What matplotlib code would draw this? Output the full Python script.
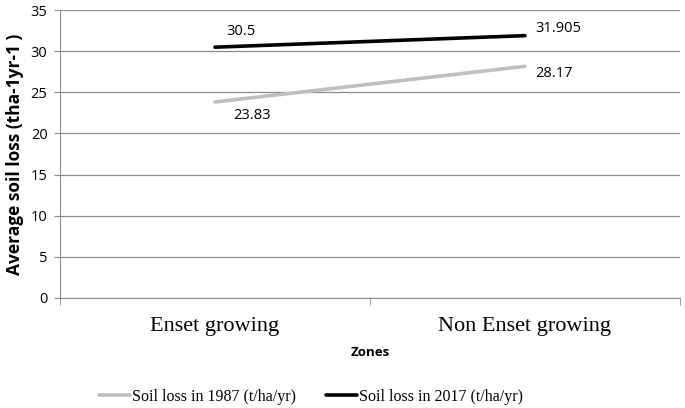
import matplotlib.pyplot as plt
import numpy as np

zones = ["Enset growing", "Non Enset growing"]
loss_1987 = [23.83, 28.17]
loss_2017 = [30.5, 31.905]
labels_1987 = ["23.83", "28.17"]
labels_2017 = ["30.5", "31.905"]

fig = plt.figure(figsize=(6.85, 4.08), dpi=100)
ax = fig.add_axes([0.0876, 0.270, 0.905, 0.705])

x = np.arange(len(zones))
ax.plot(x, loss_1987, color="#BFBFBF", lw=2.6, solid_capstyle="round",
        label="Soil loss in 1987 (t/ha/yr)")
ax.plot(x, loss_2017, color="black", lw=2.6, solid_capstyle="round",
        label="Soil loss in 2017 (t/ha/yr)")

# data labels, offsets in points
off_1987 = [(27, -10), (21, -5)]
off_2017 = [(19, 11), (24, 5)]
for xi, yi, t, o in zip(x, loss_1987, labels_1987, off_1987):
    ax.annotate(t, (xi, yi), xytext=o, textcoords="offset points",
                ha="center", va="center", fontsize=10.5, family="Open Sans")
for xi, yi, t, o in zip(x, loss_2017, labels_2017, off_2017):
    ax.annotate(t, (xi, yi), xytext=o, textcoords="offset points",
                ha="center", va="center", fontsize=10.5, family="Open Sans")

ax.set_xlim(-0.5, 1.5)
ax.set_ylim(0, 35)
ax.set_yticks(range(0, 36, 5))
ax.yaxis.grid(True, color="#8C8C8C", lw=0.9)
ax.set_axisbelow(True)

ax.set_xticks(x)
ax.set_xticklabels(zones, family="Liberation Serif", fontsize=16)
ax.set_xticks([-0.5, 0.5, 1.5], minor=True)
ax.tick_params(axis="x", which="major", length=0, pad=14)
ax.tick_params(axis="x", which="minor", length=5, color="#8C8C8C")
ax.tick_params(axis="y", length=4, color="#8C8C8C", labelsize=10.5, pad=5)
for lab in ax.get_yticklabels():
    lab.set_family("Open Sans")

for s in ["top", "right"]:
    ax.spines[s].set_visible(False)
for s in ["left", "bottom"]:
    ax.spines[s].set_color("#8C8C8C")

ax.set_xlabel("Zones", fontsize=9.5, fontweight="bold", family="Open Sans", labelpad=7)
ax.set_ylabel("Average soil loss (tha-1yr-1 )", fontsize=12.5, fontweight="bold",
              family="Open Sans", labelpad=5)

ax.legend(loc="center", bbox_to_anchor=(0.405, -0.345), ncol=2, frameon=False,
          prop={"family": "Liberation Serif", "size": 11.5},
          handlelength=1.9, handletextpad=0.15, columnspacing=1.9)

fig.savefig("out.png", dpi=100)
